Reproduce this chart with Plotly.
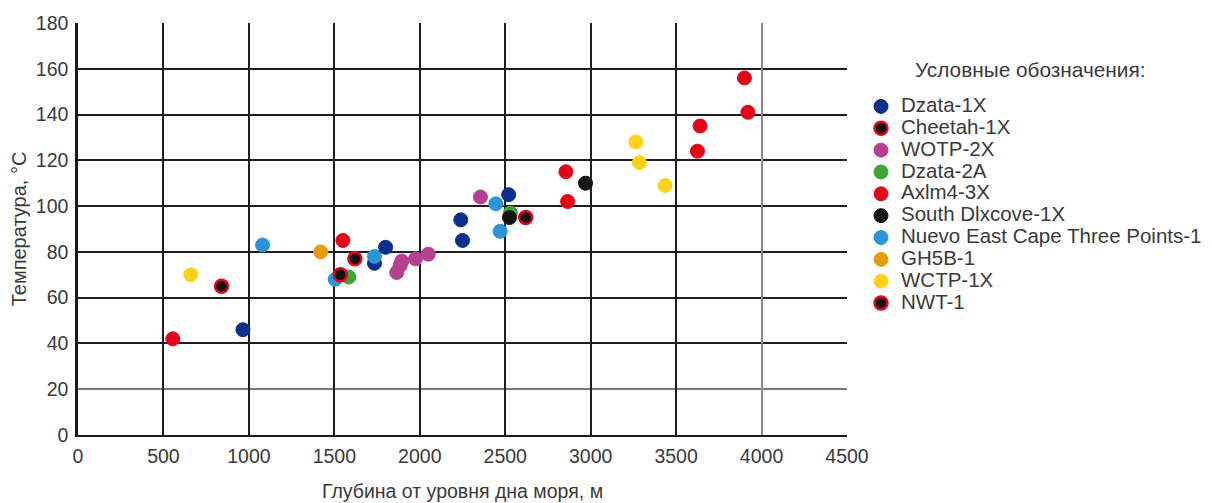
import plotly.graph_objects as go

series_names = ["Dzata-1X", "Cheetah-1X", "WOTP-2X", "Dzata-2A", "Axlm4-3X",
                "South Dlxcove-1X", "Nuevo East Cape Three Points-1", "GH5B-1",
                "WCTP-1X", "NWT-1"]

dzata1x_x = [965, 1735, 1800, 2240, 2250, 2520]
dzata1x_y = [46, 75, 82, 94, 85, 105]
cheetah_x = [840, 1620]
cheetah_y = [65, 77]
wotp_x = [1865, 1885, 1895, 1975, 2050, 2355]
wotp_y = [71, 74, 76, 77, 79, 104]
dzata2a_x = [1585, 2530]
dzata2a_y = [69, 97]
axlm_x = [555, 1550, 2855, 2865, 3625, 3640, 3900, 3920]
axlm_y = [42, 85, 115, 102, 124, 135, 156, 141]
south_x = [2525, 2970]
south_y = [95, 110]
nuevo_x = [1080, 1505, 1735, 2445, 2470]
nuevo_y = [83, 68, 78, 101, 89]
gh5b_x = [1420]
gh5b_y = [80]
wctp_x = [660, 3265, 3285, 3435]
wctp_y = [70, 128, 119, 109]
nwt_x = [1535, 2620]
nwt_y = [70, 95]

x_ticks = [0, 500, 1000, 1500, 2000, 2500, 3000, 3500, 4000, 4500]
y_ticks = [0, 20, 40, 60, 80, 100, 120, 140, 160, 180]
x_grid_dark = [500, 1000, 1500, 2000, 2500, 3000, 3500]
x_grid_gray = [4000]
x_grid_edge = [4500]
y_grid_dark = [40, 60, 80, 100, 120, 140, 160, 180]
y_grid_gray = [20]

xs = [dzata1x_x, cheetah_x, wotp_x, dzata2a_x, axlm_x, south_x, nuevo_x, gh5b_x, wctp_x, nwt_x]
ys = [dzata1x_y, cheetah_y, wotp_y, dzata2a_y, axlm_y, south_y, nuevo_y, gh5b_y, wctp_y, nwt_y]
fills = ["#0c2f8b", "#111111", "#b6418e", "#3fa53a", "#e2061c", "#141414",
         "#2b95d6", "#e39c10", "#fed21b", "#111111"]
edges = ["#0c2f8b", "#e2061c", "#b6418e", "#3fa53a", "#e2061c", "#141414",
         "#2b95d6", "#e39c10", "#fed21b", "#e2061c"]
ring = [False, True, False, False, False, False, False, False, False, True]

fig = go.Figure()

# invisible helper traces so the overlay grid axes get drawn
for xa, ya in [("x2", "y"), ("x3", "y"), ("x4", "y"), ("x", "y2"), ("x", "y3")]:
    fig.add_trace(go.Scatter(x=[x_ticks[0]], y=[y_ticks[0]], mode="none",
                             xaxis=xa, yaxis=ya, showlegend=False, hoverinfo="skip"))

for name, x, y, fc, ec, r in zip(series_names, xs, ys, fills, edges, ring):
    fig.add_trace(go.Scatter(
        x=x, y=y, mode="markers",
        name='<span style="font-size:20.5px">' + name + '</span>',
        marker=dict(size=13 if r else 14, color=fc,
                    line=dict(color=ec, width=2.5 if r else 1)),
    ))

font = "Liberation Sans, Arial, sans-serif"
txt = "#3a3a3a"
# the page body has an 8px margin, so the figure sits 8px right and down
OFF = 8
SL, ST, SR, SB = 78, 23, 847, 435          # plot area on screen
W, H = 1212, 503
L, T = SL - OFF, ST - OFF
pw, ph = SR - SL, SB - ST
R = W - L - pw
B = H - T - ph

common_over = dict(range=[0, 4500], showticklabels=False, showline=False,
                   zeroline=False, ticks="", automargin=False, showgrid=True)
common_over_y = dict(range=[0, 180], showticklabels=False, showline=False,
                     zeroline=False, ticks="", automargin=False, showgrid=True)

fig.update_layout(
    width=W, height=H,
    margin=dict(l=L, r=R, t=T, b=B),
    paper_bgcolor="white", plot_bgcolor="white",
    font=dict(family=font, size=19.5, color=txt),
    showlegend=True,
    legend=dict(xref="container", yref="container",
                x=(861 - OFF) / W, y=1 - (90.5 - OFF) / H,
                xanchor="left", yanchor="top",
                font=dict(size=14.5, color=txt), tracegroupgap=0,
                bgcolor="rgba(0,0,0,0)", borderwidth=0),
    xaxis=dict(range=[0, 4500], tickvals=x_ticks, ticktext=[str(v) for v in x_ticks],
               showgrid=False, showline=True, linecolor="#1a1a1a", linewidth=2,
               zeroline=False, ticks="", automargin=False, ticklabelstandoff=3,
               tickfont=dict(size=19.5, color=txt),
               title=dict(text="Глубина от уровня дна моря, м", standoff=18,
                          font=dict(size=19.5, color=txt))),
    yaxis=dict(range=[0, 180], tickvals=y_ticks, ticktext=[str(v) for v in y_ticks],
               showgrid=False, showline=True, linecolor="#1a1a1a", linewidth=2.5,
               zeroline=False, ticks="", automargin=False, ticklabelstandoff=3,
               tickfont=dict(size=19.5, color=txt),
               title=dict(text="Температура, °C", standoff=14,
                          font=dict(size=20, color=txt))),
    xaxis2=dict(overlaying="x", anchor="y", tickvals=x_grid_dark,
                gridcolor="#1e1e1e", gridwidth=2, **common_over),
    xaxis3=dict(overlaying="x", anchor="y", tickvals=x_grid_gray,
                gridcolor="#8a8a8a", gridwidth=2, **common_over),
    xaxis4=dict(overlaying="x", anchor="y", tickvals=x_grid_edge,
                gridcolor="#a0a0a0", gridwidth=1, **common_over),
    yaxis2=dict(overlaying="y", anchor="x", tickvals=y_grid_dark,
                gridcolor="#1e1e1e", gridwidth=2, **common_over_y),
    yaxis3=dict(overlaying="y", anchor="x", tickvals=y_grid_gray,
                gridcolor="#7a7a7a", gridwidth=2, **common_over_y),
)
fig.add_annotation(x=(913 - SL) / pw, y=(SB - 70) / ph, xref="paper", yref="paper",
                   text="Условные обозначения:", showarrow=False,
                   xanchor="left", yanchor="middle",
                   font=dict(size=20.8, color=txt))
fig.write_html("out.html")
